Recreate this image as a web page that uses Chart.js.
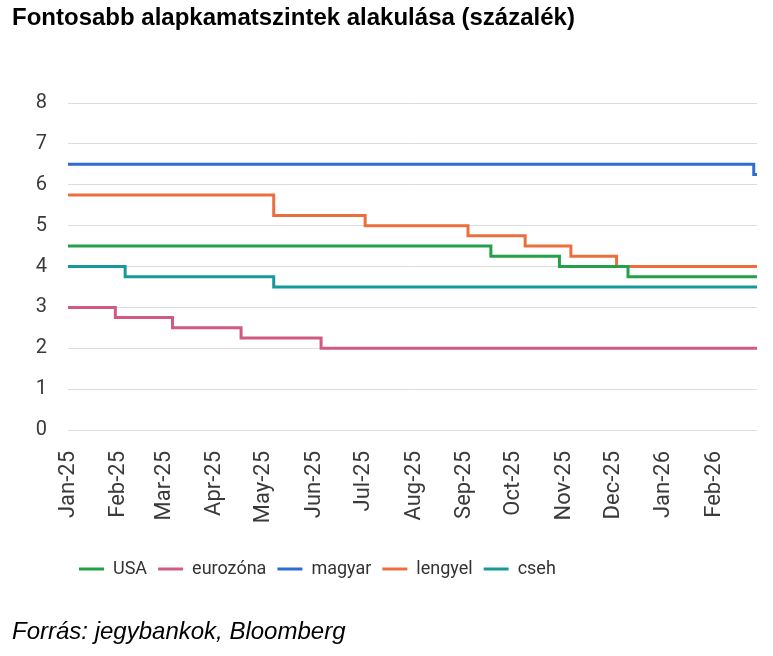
<!DOCTYPE html>
<html lang="hu">
<head>
<meta charset="utf-8">
<title>Fontosabb alapkamatszintek alakulása</title>
<script src="https://cdn.jsdelivr.net/npm/chart.js@4/dist/chart.umd.min.js"></script>
<style>
  html, body { margin: 0; padding: 0; background: #fff; }
  #wrap { position: relative; width: 773px; height: 656px; overflow: hidden; }
  #chart { position: absolute; left: 0; top: 0; }
  .title {
    position: absolute; left: 12px; top: 3px;
    font: bold 24px "Liberation Sans", Arial, sans-serif; line-height: 28px; color: #000;
  }
  .source {
    position: absolute; left: 12px; top: 617px;
    font: italic 24px "Liberation Sans", Arial, sans-serif; line-height: 28px; color: #000;
  }
</style>
</head>
<body>
<div id="wrap">
  <canvas id="chart" width="773" height="656"></canvas>
  <div class="title">Fontosabb alapkamatszintek alakulása (százalék)</div>
  <div class="source">Forrás: jegybankok, Bloomberg</div>
</div>
<script>
// rate change dates (first = start of series, last = end of data) and the new levels
const usaDates = ['2025-01-01', '2025-09-17', '2025-10-29', '2025-12-10', '2026-02-27'];
const usaRates = [4.5, 4.25, 4.0, 3.75, 3.75];

const euroDates = ['2025-01-01', '2025-01-30', '2025-03-06', '2025-04-17', '2025-06-05', '2026-02-27'];
const euroRates = [3.0, 2.75, 2.5, 2.25, 2.0, 2.0];

const huDates = ['2025-01-01', '2026-02-25', '2026-02-27'];
const huRates = [6.5, 6.25, 6.25];

const plDates = ['2025-01-01', '2025-05-07', '2025-07-02', '2025-09-03', '2025-10-08', '2025-11-05', '2025-12-03', '2026-02-27'];
const plRates = [5.75, 5.25, 5.0, 4.75, 4.5, 4.25, 4.0, 4.0];

const czDates = ['2025-01-01', '2025-02-05', '2025-05-07', '2026-02-27'];
const czRates = [4.0, 3.75, 3.5, 3.5];

const monthDates = ['2025-01-01', '2025-02-01', '2025-03-01', '2025-04-01', '2025-05-01', '2025-06-01',
  '2025-07-01', '2025-08-01', '2025-09-01', '2025-10-01', '2025-11-01', '2025-12-01', '2026-01-01', '2026-02-01'];
const monthLabels = ['Jan-25', 'Feb-25', 'Mar-25', 'Apr-25', 'May-25', 'Jun-25', 'Jul-25',
  'Aug-25', 'Sep-25', 'Oct-25', 'Nov-25', 'Dec-25', 'Jan-26', 'Feb-26'];

const startDate = '2025-01-01';
const endDate = '2026-02-27';

function dayIndex(s) {
  const [y, m, d] = s.split('-').map(Number);
  const [y0, m0, d0] = startDate.split('-').map(Number);
  return Math.round((Date.UTC(y, m - 1, d) - Date.UTC(y0, m0 - 1, d0)) / 86400000);
}

function points(dates, rates) {
  return dates.map((d, i) => ({ x: dayIndex(d), y: rates[i] }));
}

function series(label, dates, rates, color) {
  return {
    label: label,
    data: points(dates, rates),
    borderColor: color,
    backgroundColor: color,
    borderWidth: 3,
    pointRadius: 0,
    stepped: 'before',
    fill: false
  };
}

new Chart(document.getElementById('chart'), {
  type: 'line',
  data: {
    datasets: [
      series('USA', usaDates, usaRates, '#24a148'),
      series('eurozóna', euroDates, euroRates, '#d25a82'),
      series('magyar', huDates, huRates, '#2f6ccf'),
      series('lengyel', plDates, plRates, '#ea6f3c'),
      series('cseh', czDates, czRates, '#16999a')
    ]
  },
  options: {
    responsive: false,
    animation: false,
    layout: { padding: { top: 103, right: 16, bottom: 68, left: 0 } },
    scales: {
      x: {
        type: 'linear',
        min: 0,
        max: dayIndex(endDate),
        grid: { display: false },
        border: { display: false },
        afterBuildTicks: (scale) => {
          scale.ticks = monthDates.map(d => ({ value: dayIndex(d) }));
        },
        afterFit: (scale) => { scale.height = 119; },
        ticks: {
          autoSkip: false,
          minRotation: 90,
          maxRotation: 90,
          padding: 13,
          color: '#3a3a3a',
          font: { family: 'Roboto', size: 22 },
          callback: (value, index) => monthLabels[index]
        }
      },
      y: {
        min: 0,
        max: 8,
        grid: { color: '#dcdcdc', drawTicks: false },
        border: { display: false },
        afterFit: (scale) => { scale.width = 68; },
        ticks: {
          stepSize: 1,
          padding: 21,
          color: '#3a3a3a',
          font: { family: 'Roboto', size: 20 }
        }
      }
    },
    plugins: {
      legend: {
        position: 'bottom',
        align: 'start',
        fullSize: false,
        labels: {
          usePointStyle: true,
          pointStyle: 'line',
          pointStyleWidth: 25,
          padding: 11,
          color: '#333',
          font: { family: 'Roboto', size: 18 }
        }
      },
      tooltip: { enabled: false }
    }
  }
});
</script>
</body>
</html>
